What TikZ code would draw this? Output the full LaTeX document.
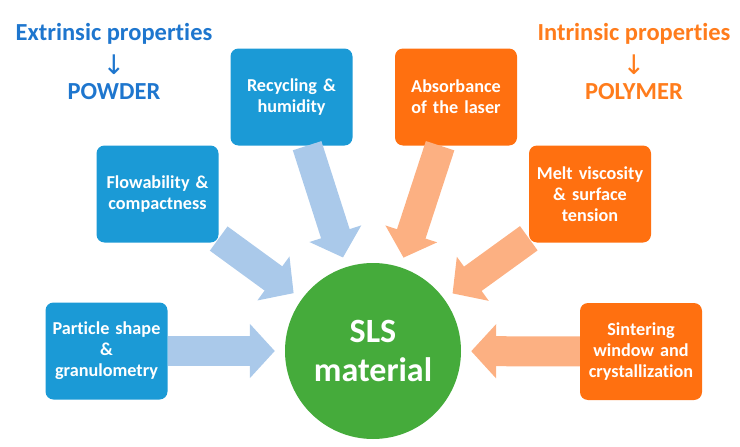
\documentclass[tikz,border=0pt]{standalone}
\usepackage{fontspec}
\setmainfont[Ligatures=NoCommon]{Carlito}
\newfontfamily\arrowfont{DejaVu Sans}
\usetikzlibrary{positioning,arrows.meta}
\definecolor{myblue}{RGB}{27,154,214}
\definecolor{myorange}{RGB}{255,112,16}
\definecolor{mygreen}{RGB}{69,171,59}
\definecolor{mylightblue}{RGB}{170,201,234}
\definecolor{mylightorange}{RGB}{252,176,130}
\definecolor{mytitleblue}{RGB}{30,118,206}
\definecolor{mytitleorange}{RGB}{255,124,28}
\tikzstyle{mybox}=[rectangle, rounded corners=8pt, align=center, minimum width=122pt, minimum height=97pt, text width=114pt, text=white, font=\bfseries\fontsize{18.2}{21}\selectfont]
\tikzstyle{powder}=[mybox, fill=myblue]
\tikzstyle{polymer}=[mybox, fill=myorange]
\tikzstyle{title}=[align=center, font=\bfseries\fontsize{24.5}{29.5}\selectfont]
\tikzstyle{big arrow}=[line width=30pt, -{Triangle[length=25pt,width=53pt]}, shorten >=10pt]
\newcommand{\down}{\raisebox{-5pt}{\arrowfont\mdseries\fontsize{27}{27}\selectfont ↓}}

\begin{document}
\begin{tikzpicture}[x=1pt, y=-1pt]
\useasboundingbox (0,0) rectangle (740,447);

\node[circle, fill=mygreen, minimum size=176pt, inner sep=0pt, align=center, text=white,
      font=\bfseries\fontsize{34}{39}\selectfont] (sls) at (373,351) {SLS\\material};

% extrinsic side
\node[powder] (particle) at (106.5,351) {Particle shape\\\&\\granulometry};
\node[powder] (flow) at (157.5,194) {Flowability \&\\compactness};
\node[powder] (recycling) at (291.5,97) {Recycling \&\\humidity};

% intrinsic side
\node[polymer] (absorb) at (456,97) {Absorbance\\of the laser};
\node[polymer] (melt) at (590,194) {Melt viscosity\\\& surface\\tension};
\node[polymer] (sinter) at (641,351.5) {Sintering\\window and\\crystallization};

\node[title, text=mytitleblue] (extrinsic) at (114,61) {Extrinsic properties\\\down\\POWDER};
\node[title, text=mytitleorange] (intrinsic) at (634,61) {Intrinsic properties\\\down\\POLYMER};

\begin{scope}[big arrow]
    \draw[mylightblue] (particle) -- (sls);
    \draw[mylightblue] (flow) -- (sls);
    \draw[mylightblue] (recycling) -- (sls);
    \draw[mylightorange] (absorb) -- (sls);
    \draw[mylightorange] (melt) -- (sls);
    \draw[mylightorange] (sinter) -- (sls);
\end{scope}

\end{tikzpicture}
\end{document}
